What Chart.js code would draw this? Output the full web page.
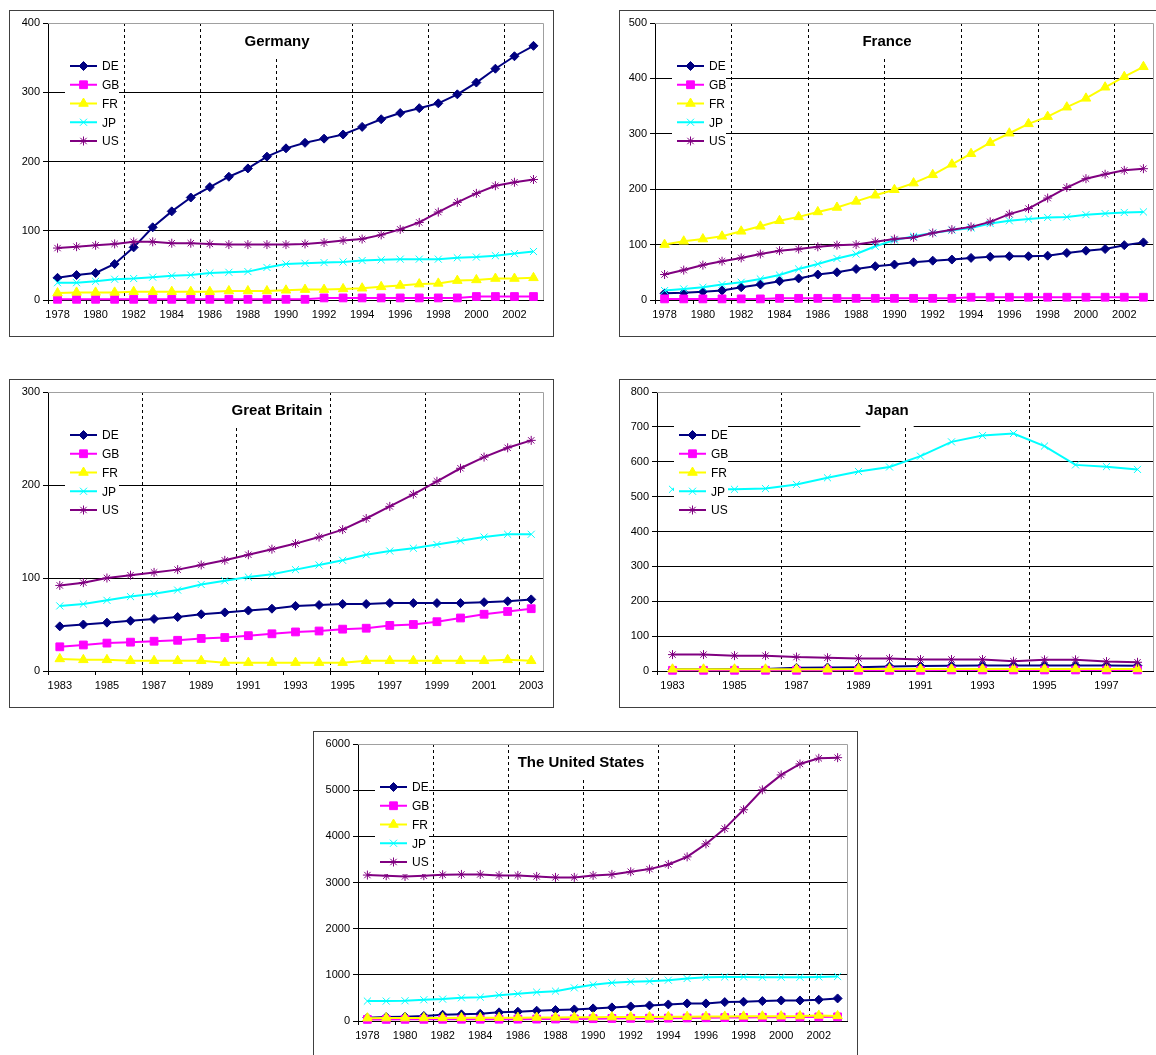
<!DOCTYPE html>
<html>
<head>
<meta charset="utf-8">
<script src="https://cdn.jsdelivr.net/npm/chart.js@4.4.1/dist/chart.umd.min.js"></script>
<style>
  html, body { margin: 0; padding: 0; background: #fff; overflow: hidden; }
  body { width: 1156px; height: 1055px; position: relative; }
  .box { position: absolute; border: 1px solid #404040; background: #fff; }
  .box canvas { display: block; }
</style>
</head>
<body>
<div class="box" style="left:9px;top:10px;"><canvas id="chart-de" width="543" height="325"></canvas></div>
<div class="box" style="left:619px;top:10px;"><canvas id="chart-fr" width="543" height="325"></canvas></div>
<div class="box" style="left:9px;top:379px;"><canvas id="chart-gb" width="543" height="327"></canvas></div>
<div class="box" style="left:619px;top:379px;"><canvas id="chart-jp" width="543" height="327"></canvas></div>
<div class="box" style="left:313px;top:731px;"><canvas id="chart-us" width="543" height="325"></canvas></div>

<script>
// categories
const years78 = ['1978','1979','1980','1981','1982','1983','1984','1985','1986','1987','1988','1989','1990',
                 '1991','1992','1993','1994','1995','1996','1997','1998','1999','2000','2001','2002','2003'];
const years83to03 = ['1983','1984','1985','1986','1987','1988','1989','1990','1991','1992','1993',
                     '1994','1995','1996','1997','1998','1999','2000','2001','2002','2003'];
const years83to98 = ['1983','1984','1985','1986','1987','1988','1989','1990','1991','1992','1993',
                     '1994','1995','1996','1997','1998'];

// Germany
const germanyDE = [32,36,39,52,76,105,128,148,163,178,190,207,219,227,233,239,250,261,270,277,284,297,314,334,352,367];
const germanyGB = [1,1,1,1,1,1,1,1,1,1,1,1,1,1,3,3,3,3,3,3,3,3,5,5,5,5];
const germanyFR = [10,11,11,11,12,12,12,12,12,13,13,13,14,15,15,16,17,19,21,23,24,28,29,31,31,32];
const germanyJP = [25,25,27,30,31,33,35,36,39,40,41,47,52,53,54,55,57,58,59,59,59,61,62,64,67,70];
const germanyUS = [75,77,79,81,84,84,82,82,81,80,80,80,80,81,83,86,88,94,102,112,127,141,154,165,170,174];

// France
const franceDE = [12,13,15,17,23,28,34,39,46,50,56,61,64,68,71,73,76,78,79,79,80,85,89,92,99,104];
const franceGB = [2,2,2,2,2,2,3,3,3,3,3,3,3,3,3,3,5,5,5,5,5,5,5,5,5,5];
const franceFR = [100,106,110,115,124,133,143,150,159,167,178,189,199,211,226,245,264,284,301,318,331,348,364,384,403,421];
const franceJP = [17,20,23,28,32,38,45,56,65,75,83,97,108,115,121,126,130,138,143,146,149,150,154,156,158,159];
const franceUS = [46,54,63,70,76,83,89,92,96,99,100,105,110,113,121,127,132,141,155,165,184,203,219,227,234,237];

// Great Britain
const britainDE = [48,50,52,54,56,58,61,63,65,67,70,71,72,72,73,73,73,73,74,75,77];
const britainGB = [26,28,30,31,32,33,35,36,38,40,42,43,45,46,49,50,53,57,61,64,67];
const britainFR = [13,12,12,11,11,11,11,9,9,9,9,9,9,11,11,11,11,11,11,12,11];
const britainJP = [70,72,76,80,83,87,93,97,101,104,109,114,119,125,129,132,136,140,144,147,147];
const britainUS = [92,95,100,103,106,109,114,119,125,131,137,144,152,164,177,190,204,218,230,240,248];

// Japan
const japanDE = [5,5,6,6,9,10,11,13,14,15,16,16,16,16,16,15];
const japanGB = [2,2,2,2,2,2,2,2,2,3,3,3,3,3,3,3];
const japanFR = [5,5,5,5,5,5,6,6,6,6,6,6,6,6,6,6];
const japanJP = [521,521,521,523,535,554,572,585,616,657,675,681,645,591,586,578];
const japanUS = [47,47,44,44,40,38,36,36,33,33,33,28,32,32,27,25];

// The United States
const usaDE = [72,86,93,108,136,144,158,187,201,223,237,251,273,295,316,338,359,381,381,409,417,431,445,445,460,489];
const usaGB = [35,35,36,36,37,38,38,39,40,41,43,46,50,55,58,60,62,66,70,74,77,80,83,85,88,90];
const usaFR = [62,63,64,66,67,68,70,72,73,75,78,80,82,84,86,88,90,93,96,99,101,103,105,107,120,110];
const usaJP = [431,431,438,460,474,503,517,560,589,625,647,718,783,826,848,862,884,920,948,955,955,948,948,948,955,963];
const usaUS = [3161,3147,3132,3147,3168,3175,3175,3154,3154,3132,3111,3111,3154,3175,3233,3290,3391,3556,3836,4167,4576,5007,5330,5568,5690,5704];

const seriesNames = ['DE', 'GB', 'FR', 'JP', 'US'];
const seriesColors = ['#000080', '#ff00ff', '#ffff00', '#00ffff', '#800080'];
const seriesMarkers = ['rectRot', 'rect', 'triangle', 'crossRot', 'star'];
const markerSizes = [4.5, 5.5, 5.5, 5, 4.5];

Chart.defaults.font.family = '"Liberation Sans", Arial, sans-serif';
Chart.defaults.font.size = 11;
Chart.defaults.color = '#000';

const drawMarker = (ctx, style, r, x, y) => {
  if (Chart.helpers && Chart.helpers.drawPoint) {
    Chart.helpers.drawPoint(ctx, { pointStyle: style, radius: r, rotation: 0, borderWidth: 1 }, x, y);
  } else {
    ctx.beginPath();
    ctx.arc(x, y, r * 0.8, 0, Math.PI * 2);
    ctx.fill();
  }
};

// plot border, title and legend drawn like the old spreadsheet charts
const excelLook = {
  id: 'excelLook',
  beforeDatasetsDraw(chart) {
    const { ctx, chartArea: a } = chart;
    ctx.save();
    ctx.strokeStyle = '#a0a0a0';
    ctx.lineWidth = 1;
    ctx.beginPath();
    ctx.moveTo(a.left, a.top + 0.5);
    ctx.lineTo(a.right + 0.5, a.top + 0.5);
    ctx.lineTo(a.right + 0.5, a.bottom);
    ctx.stroke();
    ctx.restore();
  },
  afterDraw(chart, args, opts) {
    const { ctx, chartArea: a } = chart;
    ctx.save();

    // title
    ctx.font = 'bold 15px "Liberation Sans", Arial, sans-serif';
    const tw = ctx.measureText(opts.title).width;
    const cx = 267;
    ctx.fillStyle = '#fff';
    ctx.fillRect(cx - tw / 2 - 5, a.top + 1, tw + 10, 35);
    ctx.fillStyle = '#000';
    ctx.textAlign = 'center';
    ctx.textBaseline = 'middle';
    ctx.fillText(opts.title, cx, 31);

    // legend
    ctx.fillStyle = '#fff';
    ctx.fillRect(a.left + 17, a.top + 33, 54, 97);
    ctx.font = '12px "Liberation Sans", Arial, sans-serif';
    ctx.textAlign = 'left';
    chart.data.datasets.forEach((ds, i) => {
      const y = a.top + 43 + i * 18.75;
      const x0 = a.left + 22;
      ctx.strokeStyle = ds.borderColor;
      ctx.lineWidth = 2;
      ctx.beginPath();
      ctx.moveTo(x0, y);
      ctx.lineTo(x0 + 27, y);
      ctx.stroke();
      ctx.fillStyle = ds.borderColor;
      ctx.lineWidth = 1;
      drawMarker(ctx, ds.pointStyle, ds.pointRadius, x0 + 13.5, y);
      ctx.fillStyle = '#000';
      ctx.fillText(ds.label, a.left + 54, y + 1);
    });
    ctx.restore();
  }
};

function makeChart(id, title, labels, values, yMax, yStep, axisWidth) {
  const n = labels.length;
  const datasets = values.map((data, i) => ({
    label: seriesNames[i],
    data: data,
    borderColor: seriesColors[i],
    backgroundColor: seriesColors[i],
    pointBackgroundColor: seriesColors[i],
    pointBorderColor: seriesColors[i],
    pointStyle: seriesMarkers[i],
    pointRadius: markerSizes[i],
    pointBorderWidth: 1,
    borderWidth: 2,
    tension: 0,
    fill: false,
    clip: false,
    order: 5 - i
  }));

  return new Chart(document.getElementById(id), {
    type: 'line',
    data: { labels: labels, datasets: datasets },
    plugins: [excelLook],
    options: {
      responsive: false,
      animation: false,
      devicePixelRatio: 1,
      layout: { padding: { top: 12, right: 10, left: 0, bottom: 0 } },
      plugins: {
        legend: { display: false },
        tooltip: { enabled: false },
        excelLook: { title: title }
      },
      scales: {
        x: {
          type: 'category',
          offset: true,
          grid: {
            offset: true,
            color: (c) => (c.index % 4 === 0 && c.index > 0 && c.index < n) ? '#000' : 'transparent',
            tickColor: (c) => (c.index % 2 === 0) ? '#000' : 'transparent',
            tickLength: 4,
            tickBorderDash: [],
            lineWidth: 1
          },
          border: { color: '#000', width: 1, dash: [3, 3] },
          ticks: {
            autoSkip: false,
            maxRotation: 0,
            minRotation: 0,
            padding: 4,
            callback: (v, i) => (i % 2 === 0 ? labels[i] : '')
          },
          afterFit: (s) => { s.height = 36; }
        },
        y: {
          min: 0,
          max: yMax,
          ticks: { stepSize: yStep, padding: 3, callback: (v) => String(v) },
          grid: {
            color: (c) => (c.tick && c.tick.value === yMax) ? 'transparent' : '#000',
            tickColor: '#000',
            tickLength: 5,
            lineWidth: 1
          },
          border: { color: '#000', width: 1 },
          afterFit: (s) => { s.width = axisWidth; }
        }
      }
    }
  });
}

makeChart('chart-de', 'Germany', years78,
  [germanyDE, germanyGB, germanyFR, germanyJP, germanyUS], 400, 100, 38);
makeChart('chart-fr', 'France', years78,
  [franceDE, franceGB, franceFR, franceJP, franceUS], 500, 100, 35);
makeChart('chart-gb', 'Great Britain', years83to03,
  [britainDE, britainGB, britainFR, britainJP, britainUS], 300, 100, 38);
makeChart('chart-jp', 'Japan', years83to98,
  [japanDE, japanGB, japanFR, japanJP, japanUS], 800, 100, 37);
makeChart('chart-us', 'The United States', years78,
  [usaDE, usaGB, usaFR, usaJP, usaUS], 6000, 1000, 44);
</script>
</body>
</html>
